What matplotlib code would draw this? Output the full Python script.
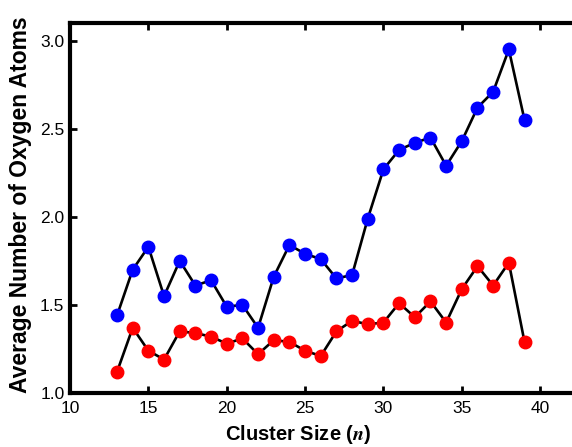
import matplotlib
matplotlib.use("Agg")
import matplotlib.pyplot as plt

plt.rcParams['font.family'] = ['Liberation Sans', 'DejaVu Sans']
plt.rcParams['mathtext.fontset'] = 'stix'

# cluster sizes and average oxygen counts
n = list(range(13, 40))
blue_vals = [1.44, 1.70, 1.83, 1.55, 1.75, 1.61, 1.64, 1.49, 1.50, 1.37,
             1.66, 1.84, 1.79, 1.76, 1.65, 1.67, 1.99, 2.27, 2.38, 2.42,
             2.45, 2.29, 2.43, 2.62, 2.71, 2.95, 2.55]
red_vals = [1.12, 1.37, 1.24, 1.19, 1.35, 1.34, 1.32, 1.28, 1.31, 1.22,
            1.30, 1.29, 1.24, 1.21, 1.35, 1.41, 1.39, 1.40, 1.51, 1.43,
            1.52, 1.40, 1.59, 1.72, 1.61, 1.74, 1.29]

fig = plt.figure(figsize=(5.72, 4.47), dpi=100)
ax = fig.add_axes([0.1224, 0.1208, 0.885, 0.8277])

ax.plot(n, blue_vals, '-', color='black', lw=1.9, zorder=2)
ax.plot(n, blue_vals, 'o', color='#0000ff', ms=9, mec='#0000ff', zorder=3)
ax.plot(n, red_vals, '-', color='black', lw=1.9, zorder=2)
ax.plot(n, red_vals, 'o', color='#ff0000', ms=9, mec='#ff0000', zorder=3)

ax.set_xlim(10, 42.3)
ax.set_ylim(1.0, 3.1)
ax.set_xticks([10, 15, 20, 25, 30, 35, 40])
ax.set_yticks([1.0, 1.5, 2.0, 2.5, 3.0])
ax.set_yticklabels(['1.0', '1.5', '2.0', '2.5', '3.0'])

for s in ax.spines.values():
    s.set_linewidth(3)
ax.spines['right'].set_visible(False)
ax.tick_params(direction='in', length=5, width=2, labelsize=12.5, pad=4,
               top=True, right=False)
ax.tick_params(axis='x', pad=6)

ax.set_xlabel('Cluster Size ($\\mathbfit{n}$)', fontsize=14.5, fontweight='bold')
ax.xaxis.set_label_coords(0.45, -0.082)
ax.set_ylabel('Average Number of Oxygen Atoms', fontsize=16.5, fontweight='bold')
ax.yaxis.set_label_coords(-0.076, 0.51)

fig.savefig('out.png', dpi=100)
